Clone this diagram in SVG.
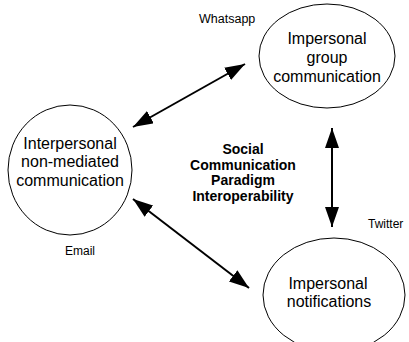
<svg xmlns="http://www.w3.org/2000/svg" width="409" height="342" viewBox="0 0 409 342">
<style>
.n{fill:#fff;stroke:#000;stroke-width:1}
.t{font-family:"Liberation Sans",Arial,sans-serif;font-size:16px;text-anchor:middle;fill:#000}
.l{font-family:"Liberation Sans",Arial,sans-serif;font-size:12px;fill:#000}
.b{font-family:"Liberation Sans",Arial,sans-serif;font-size:14px;font-weight:bold;text-anchor:middle;fill:#000}
.c{stroke:#000;stroke-width:2;fill:none;marker-start:url(#a);marker-end:url(#a)}
</style>
<defs>
<marker id="a" viewBox="0 0 20 14" refX="20" refY="7" markerWidth="20" markerHeight="14" markerUnits="userSpaceOnUse" orient="auto-start-reverse">
<path d="M0,0 L20,7 L0,14 z" fill="#000"/>
</marker>
</defs>
<g id="connectors">
<line class="c" x1="133" y1="127" x2="245" y2="64"/>
<line class="c" x1="332" y1="128" x2="332" y2="227"/>
<line class="c" x1="133" y1="199" x2="249" y2="288"/>
</g>
<g id="interpersonal">
<ellipse class="n" cx="70" cy="170" rx="62" ry="65"/>
<text class="t" x="70" y="149">Interpersonal</text>
<text class="t" x="70" y="167">non-mediated</text>
<text class="t" x="70" y="186">communication</text>
</g>
<g id="group">
<ellipse class="n" cx="327" cy="56" rx="68" ry="52"/>
<text class="t" x="327" y="44">Impersonal</text>
<text class="t" x="327" y="63">group</text>
<text class="t" x="327" y="82">communication</text>
</g>
<g id="notifications">
<ellipse class="n" cx="334" cy="295" rx="71" ry="57"/>
<text class="t" x="328" y="289">Impersonal</text>
<text class="t" x="329" y="307">notifications</text>
</g>
<g id="labels">
<text class="l" x="199" y="23" style="font-size:12.5px">Whatsapp</text>
<text class="l" x="368" y="228">Twitter</text>
<text class="l" x="65" y="255">Email</text>
<text class="b" x="243" y="154">Social</text>
<text class="b" x="243" y="170">Communication</text>
<text class="b" x="243" y="185">Paradigm</text>
<text class="b" x="243" y="201">Interoperability</text>
</g>
</svg>
